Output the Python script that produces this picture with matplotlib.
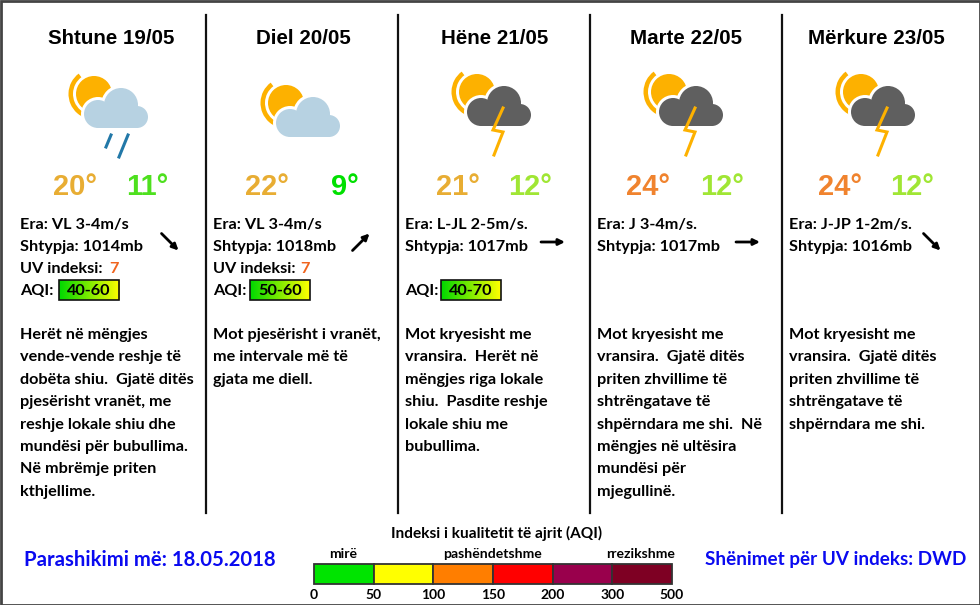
import numpy as np
import matplotlib
matplotlib.use('Agg')
import matplotlib.pyplot as plt
from matplotlib.colors import LinearSegmentedColormap
from matplotlib.patches import Circle, Wedge, Rectangle

# Data
days = ['Shtune 19/05', 'Diel 20/05', 'Hëne 21/05', 'Marte 22/05', 'Mërkure 23/05']
highs = [20, 22, 21, 24, 24]
lows = [11, 9, 12, 12, 12]
high_colors = ['#e8ad33', '#e8ad33', '#e8ad33', '#f0832e', '#f0832e']
low_colors = ['#4ee01e', '#00e000', '#a0e634', '#a0e634', '#a0e634']
winds = ['VL 3-4m/s', 'VL 3-4m/s', 'L-JL 2-5m/s.', 'J 3-4m/s.', 'J-JP 1-2m/s.']
wind_angles = [-45, 45, 0, 0, -45]
pressures = [1014, 1018, 1017, 1017, 1016]
uv_values = [7, 7, None, None, None]
aqi_ranges = ['40-60', '50-60', '40-70', None, None]
icons = ['rain', 'cloud', 'storm', 'storm', 'storm']
descriptions = [
    ['Herët në mëngjes', 'vende-vende reshje të', 'dobëta shiu.  Gjatë ditës',
     'pjesërisht vranët, me', 'reshje lokale shiu dhe', 'mundësi për bubullima.',
     'Në mbrëmje priten', 'kthjellime.'],
    ['Mot pjesërisht i vranët,', 'me intervale më të', 'gjata me diell.'],
    ['Mot kryesisht me', 'vransira.  Herët në', 'mëngjes riga lokale',
     'shiu.  Pasdite reshje', 'lokale shiu me', 'bubullima.'],
    ['Mot kryesisht me', 'vransira.  Gjatë ditës', 'priten zhvillime të',
     'shtrëngatave të', 'shpërndara me shi.  Në', 'mëngjes në ultësira',
     'mundësi për', 'mjegullinë.'],
    ['Mot kryesisht me', 'vransira.  Gjatë ditës', 'priten zhvillime të',
     'shtrëngatave të', 'shpërndara me shi.'],
]
aqi_ticks = ['0', '50', '100', '150', '200', '300', '500']
aqi_colors = ['#00e400', '#ffff00', '#ff7e00', '#ff0000', '#99004c', '#7e0023']
aqi_labels = ['mirë', 'pashëndetshme', 'rrezikshme']

BODY = 'Lato'
HEAD = 'Liberation Sans'
BODY_SIZE = 11.7

fig = plt.figure(figsize=(9.8, 6.05), dpi=100)
ax = fig.add_axes([0, 0, 1, 1])
ax.set_axis_off()


def draw_icon(ax, dx, dy, kind):
    # sun with ring, then cloud on top with a thin white halo
    sx, sy = 94 + dx, 94 + dy
    ax.add_patch(Wedge((sx, sy), 25.5, 30, 233, width=4.5, fc='#fdb100', ec='none', zorder=2))
    ax.add_patch(Circle((sx, sy), 18, fc='#fdb100', ec='none', zorder=2))
    color = '#b7d2e2' if kind != 'storm' else '#5f5f5f'
    lobes = [(98, 114, 14), (121, 105, 17), (137, 117, 11)]
    for x, y, r in lobes:
        ax.add_patch(Circle((x + dx, y + dy), r + 3, fc='white', ec='none', zorder=3))
    for x, y, r in lobes:
        ax.add_patch(Circle((x + dx, y + dy), r, fc=color, ec='none', zorder=4))
    ax.add_patch(Rectangle((98 + dx, 108 + dy), 39, 20, fc=color, ec='none', zorder=4))
    if kind == 'rain':
        ax.plot([106 + dx, 111 + dx], [147 + dy, 135 + dy], color='#2278a8', lw=2.2, zorder=5)
        ax.plot([119 + dx, 128 + dx], [157 + dy, 135 + dy], color='#2278a8', lw=2.2, zorder=5)
    if kind == 'storm':
        bolt = np.array([[120, 110], [110, 132], [120, 134], [111, 157]])
        ax.plot(bolt[:, 0] + dx, bolt[:, 1] + dy, color='#fdb100', lw=2.2, zorder=5,
                solid_joinstyle='miter')


# column dividers
for x in [206, 398, 590, 782]:
    ax.plot([x, x], [15, 513], color='#111111', lw=1.6)

centers = [111, 303, 495, 686, 876]
text_x = [20, 213, 405, 597, 789]
icon_dx = [0, 192, 383, 575, 767]
icon_dy = [0, 9, -2, -2, -2]
high_x = [75, 267, 458, 648, 840]
low_x = [147, 345, 530, 722, 912]
arrow_x = [170, 361, 553, 748, 932]
uv_x = [109, 300]
aqi_box_x = [59, 250, 441]
cmap = LinearSegmentedColormap.from_list('gy', ['#00d800', '#ffff00'])

for i in range(5):
    x0 = text_x[i]
    ax.text(centers[i], 38.5, days[i], family=HEAD, weight='bold', fontsize=14.8,
            ha='center', va='center', color='black')
    draw_icon(ax, icon_dx[i], icon_dy[i], icons[i])
    ax.text(high_x[i], 187, f'{highs[i]}°', family=HEAD, weight='bold', fontsize=21,
            ha='center', va='center', color=high_colors[i])
    ax.text(low_x[i], 187, f'{lows[i]}°', family=HEAD, weight='bold', fontsize=21,
            ha='center', va='center', color=low_colors[i])

    ax.text(x0, 225, f'Era: {winds[i]}', family=BODY, weight='bold', fontsize=BODY_SIZE, va='center')
    ax.text(x0, 247, f'Shtypja: {pressures[i]}mb', family=BODY, weight='bold', fontsize=BODY_SIZE, va='center')

    # wind arrow, direction from wind_angles
    a = np.deg2rad(wind_angles[i])
    hx, hy = 12 * np.cos(a), -12 * np.sin(a)
    ax.annotate('', xy=(arrow_x[i] + hx, 242 + hy), xytext=(arrow_x[i] - hx, 242 - hy),
                arrowprops=dict(arrowstyle='-|>', color='black', lw=2, mutation_scale=9,
                                shrinkA=0, shrinkB=0))

    if uv_values[i] is not None:
        ax.text(x0, 269, 'UV indeksi:', family=BODY, weight='bold', fontsize=BODY_SIZE, va='center')
        ax.text(uv_x[i], 269, str(uv_values[i]), family=BODY, weight='bold', fontsize=BODY_SIZE,
                va='center', color='#f0641e')
    if aqi_ranges[i] is not None:
        ax.text(x0, 291, 'AQI:', family=BODY, weight='bold', fontsize=BODY_SIZE, va='center')
        bx = aqi_box_x[i]
        grad = np.linspace(0, 1, 64).reshape(1, -1)
        ax.imshow(grad, extent=[bx, bx + 60, 300, 280], cmap=cmap, aspect='auto', zorder=2)
        ax.add_patch(Rectangle((bx, 280), 60, 20, fc='none', ec='#111111', lw=1.2, zorder=3))
        ax.text(bx + 30, 291, aqi_ranges[i], family=BODY, weight='bold', fontsize=BODY_SIZE,
                ha='center', va='center', zorder=4)

    for j, line in enumerate(descriptions[i]):
        ax.text(x0, 335 + j * 22.4, line, family=BODY, weight='bold', fontsize=BODY_SIZE, va='center')

# footer
ax.text(24, 560, 'Parashikimi më: 18.05.2018', family=BODY, weight='bold', fontsize=14.6,
        color='#0a0af0', va='center')
ax.text(966, 560, 'Shënimet për UV indeks: DWD', family=BODY, weight='bold', fontsize=13.6,
        color='#0a0af0', va='center', ha='right')

# AQI scale
bar_left, bar_right = 314, 672
edges = np.linspace(bar_left, bar_right, len(aqi_colors) + 1)
for k, c in enumerate(aqi_colors):
    ax.add_patch(Rectangle((edges[k], 564), edges[k + 1] - edges[k], 20, fc=c, ec='#333333', lw=1.3))
for k, t in enumerate(aqi_ticks):
    ax.text(edges[k], 595, t, family=BODY, weight='bold', fontsize=10, ha='center', va='center')
ax.text(497, 533, 'Indeksi i kualitetit të ajrit (AQI)', family=BODY, weight='bold', fontsize=11.1,
        ha='center', va='center')
for x, t in zip([343, 492, 641], aqi_labels):
    ax.text(x, 554, t, family=BODY, weight='bold', fontsize=10.1, ha='center', va='center')

# outer frame
ax.add_patch(Rectangle((0.5, 0.5), 979, 604, fc='none', ec='#444444', lw=2, zorder=6))

ax.set_xlim(0, 980)
ax.set_ylim(605, 0)
fig.savefig('out.png', dpi=100)
